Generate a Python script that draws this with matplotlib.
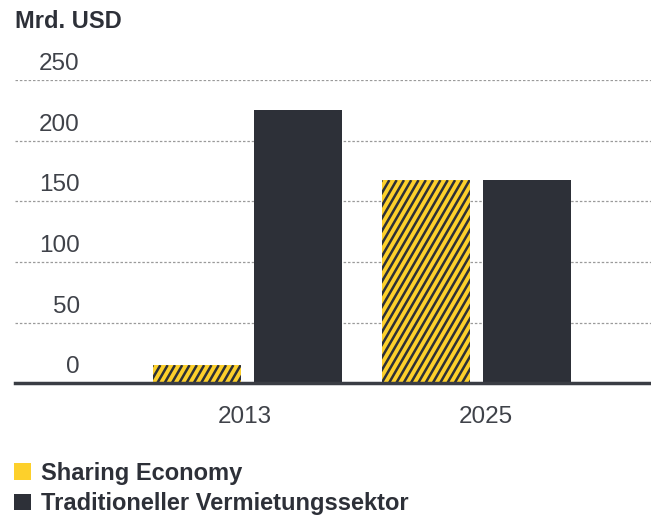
import math
import matplotlib
matplotlib.use("Agg")
import matplotlib.pyplot as plt
from matplotlib.patches import Patch
from matplotlib.collections import LineCollection
from matplotlib import transforms

# Umsatz in Mrd. USD
jahre = ["2013", "2025"]
sharing = [15, 167.5]
traditionell = [225, 167.5]
y_ticks = [0, 50, 100, 150, 200, 250]

gelb = "#fdd02b"
dunkel = "#2d3038"
text_grau = "#3f4249"

plt.rcParams["font.family"] = ["Liberation Sans", "DejaVu Sans"]

fig = plt.figure(figsize=(6.51, 5.18), dpi=100)
ax = fig.add_axes([15 / 651, 1 - 383.3 / 518, 636 / 651, 303.3 / 518])

x = list(range(len(jahre)))
breite = 0.384
versatz = 0.2205

gelbe_balken = ax.bar([i - versatz for i in x], sharing, breite, color=gelb,
                      linewidth=0, zorder=2)
ax.bar([i + versatz for i in x], traditionell, breite, color=dunkel,
       linewidth=0, zorder=2)

ax.set_xlim(-1.0153, 1.762)
ax.set_ylim(0, 250)

# schräge Streifen auf den gelben Balken (ca. 60 Grad, in Pixeln gezeichnet)
abstand = 7.3
steigung = math.tan(math.radians(60))
for balken in gelbe_balken:
    bb = balken.get_window_extent()
    h = bb.y1 - bb.y0
    dx = h / steigung
    linien = []
    xs = bb.x0 - dx - abstand
    while xs < bb.x1 + abstand:
        linien.append([(xs, bb.y0), (xs + dx, bb.y1)])
        xs += abstand
    lc = LineCollection(linien, colors=dunkel, linewidths=1.8,
                        transform=transforms.IdentityTransform(), zorder=2.5)
    ax.add_collection(lc, autolim=False)
    lc.set_clip_path(balken.get_path(), balken.get_transform())

# gestrichelte Hilfslinien, Beschriftung oberhalb der Linie
ax.set_yticks(y_ticks)
ax.yaxis.grid(True, linestyle=(0, (2, 1.5)), color="#9a9a9a", linewidth=0.9, zorder=1)
ax.tick_params(axis="y", length=0, labelleft=False)
trans = transforms.offset_copy(ax.get_yaxis_transform(), fig=fig, y=10, units="dots")
for v in y_ticks:
    ax.text(0.102, v, str(v), transform=trans, ha="right", va="baseline",
            fontsize=17.5, color=text_grau)

ax.set_xticks([-0.01, 1.04])
ax.set_xticklabels(jahre, fontsize=17.5, color=text_grau)
ax.tick_params(axis="x", length=0, pad=16)

for s in ["top", "right", "left"]:
    ax.spines[s].set_visible(False)
ax.spines["bottom"].set_color("#3a3d44")
ax.spines["bottom"].set_linewidth(2.5)
ax.spines["bottom"].set_zorder(3)

fig.text(15 / 651, 1 - 27.7 / 518, "Mrd. USD", ha="left", va="baseline",
         fontsize=17, fontweight="bold", color=dunkel)

handles = [Patch(facecolor=gelb, edgecolor="none"),
           Patch(facecolor=dunkel, edgecolor="none")]
fig.legend(handles, ["Sharing Economy", "Traditioneller Vermietungssektor"],
           loc="upper left", bbox_to_anchor=(14 / 651, 1 - 462 / 518),
           frameon=False, borderpad=0, borderaxespad=0,
           handlelength=0.7, handleheight=0.7, handletextpad=0.45,
           labelspacing=0.3, prop={"size": 17, "weight": "bold"},
           labelcolor=dunkel)

fig.savefig("out.png", dpi=100)
